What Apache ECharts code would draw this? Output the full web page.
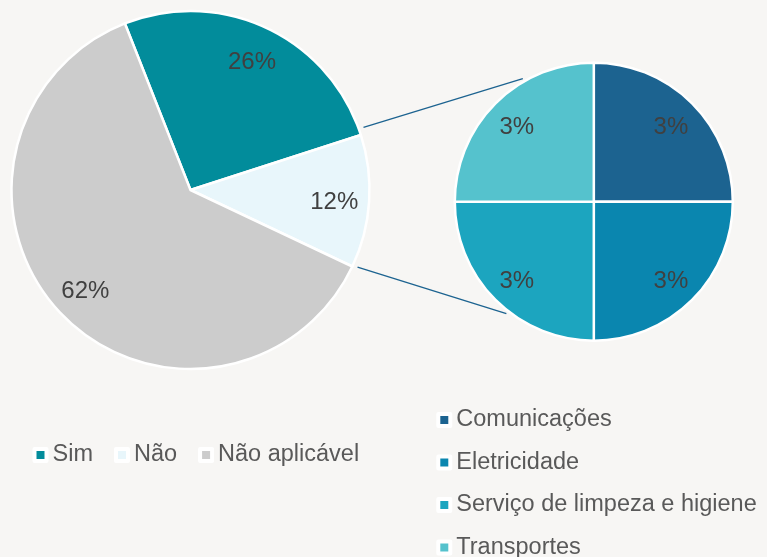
<!DOCTYPE html>
<html>
<head>
<meta charset="utf-8">
<script src="https://cdn.jsdelivr.net/npm/echarts@6/dist/echarts.min.js"></script>
<style>
  html, body { margin: 0; padding: 0; background: #f7f6f4; }
  #chart { width: 767px; height: 557px; }
</style>
</head>
<body>
<div id="chart"></div>
<script>
// Main breakdown (percent)
const mainNames = ['Sim', 'Não', 'Não aplicável'];
const mainValues = [26, 12, 62];
const mainColors = ['#028c9b', '#e8f6fb', '#cccccc'];

// Breakdown of "Não" (percent)
const subNames = ['Comunicações', 'Eletricidade', 'Serviço de limpeza e higiene', 'Transportes'];
const subValues = [3, 3, 3, 3];
const subColors = ['#1c6390', '#0a86af', '#1ca5bf', '#55c2cd'];

const FONT = '"Liberation Sans", Arial, sans-serif';
const mainCenter = [190.5, 190];
const mainRadius = 179;
const mainStart = 111.5;
const subCenter = [593.8, 201.7];
const subRadius = 139;

const toData = (names, values, colors) =>
  names.map((n, i) => ({ name: n, value: values[i], itemStyle: { color: colors[i] } }));

// angle span of the "Não" slice, derived from the data
const total = mainValues.reduce((a, b) => a + b, 0);
const naoIdx = 1;
const before = mainValues.slice(0, naoIdx).reduce((a, b) => a + b, 0);
const naoStartAng = mainStart - 360 * before / total;
const naoEndAng = naoStartAng - 360 * mainValues[naoIdx] / total;

function polar(c, r, deg) {
  const a = deg * Math.PI / 180;
  return [c[0] + r * Math.cos(a), c[1] - r * Math.sin(a)];
}

const topA = polar(mainCenter, mainRadius + 5, naoStartAng + 2);
const topB = polar(subCenter, subRadius + 3, 120);
const botA = polar(mainCenter, mainRadius + 5, naoEndAng + 0.5);
const botB = polar(subCenter, subRadius + 3, -128);

const labelStyle = {
  show: true, position: 'inside', formatter: '{c}%', offset: [0, 3],
  fontFamily: FONT, fontSize: 24, color: '#404040'
};
const hiddenItem = { color: 'rgba(0,0,0,0)', borderWidth: 0 };

const legendText = { fontFamily: FONT, fontSize: 23.5, color: '#595959', lineHeight: 28, padding: [0, 0, 0, 1] };
const legendIcon = { borderColor: '#ffffff', borderWidth: 4 };

const chart = echarts.init(document.getElementById('chart'), null, { renderer: 'canvas' });
chart.setOption({
  backgroundColor: '#f7f6f4',
  animation: false,
  legend: [
    {
      data: mainNames, orient: 'horizontal', left: 32.5, top: 441, padding: 0,
      icon: 'rect', itemWidth: 12, itemHeight: 12, itemGap: 21,
      itemStyle: legendIcon, textStyle: legendText
    },
    {
      data: subNames, orient: 'vertical', left: 436.3, top: 406, height: 200, padding: 0,
      icon: 'rect', itemWidth: 12, itemHeight: 12, itemGap: 14.5,
      itemStyle: legendIcon, textStyle: legendText
    }
  ],
  series: [
    {
      type: 'pie', center: mainCenter, radius: mainRadius, startAngle: mainStart,
      clockwise: true, silent: true, label: { show: false }, labelLine: { show: false },
      itemStyle: { borderColor: '#ffffff', borderWidth: 2.5 },
      data: toData(mainNames, mainValues, mainColors)
    },
    {
      type: 'pie', center: subCenter, radius: subRadius, startAngle: 90,
      clockwise: true, silent: true, label: { show: false }, labelLine: { show: false },
      itemStyle: { borderColor: '#ffffff', borderWidth: 2.5 },
      data: toData(subNames, subValues, subColors)
    },
    // label rings: place percentage text at ~80% of the radius
    {
      type: 'pie', center: mainCenter, radius: [126, 156], startAngle: mainStart,
      clockwise: true, silent: true, avoidLabelOverlap: false,
      label: labelStyle, labelLine: { show: false }, itemStyle: hiddenItem,
      data: mainNames.map((n, i) => ({ name: n, value: mainValues[i] }))
    },
    {
      type: 'pie', center: subCenter, radius: [93, 119], startAngle: 90,
      clockwise: true, silent: true, avoidLabelOverlap: false,
      label: labelStyle, labelLine: { show: false }, itemStyle: hiddenItem,
      data: subNames.map((n, i) => ({ name: n, value: subValues[i] }))
    }
  ],
  graphic: [
    { type: 'line', silent: true, z: 10,
      shape: { x1: topA[0], y1: topA[1], x2: topB[0], y2: topB[1] },
      style: { stroke: '#1c6390', lineWidth: 1.3 } },
    { type: 'line', silent: true, z: 10,
      shape: { x1: botA[0], y1: botA[1], x2: botB[0], y2: botB[1] },
      style: { stroke: '#1c6390', lineWidth: 1.3 } }
  ]
});
</script>
</body>
</html>
